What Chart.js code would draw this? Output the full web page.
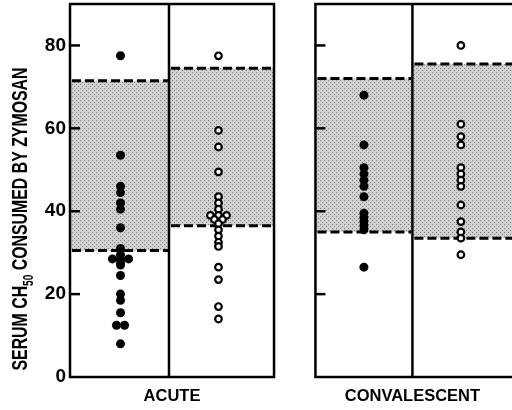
<!DOCTYPE html>
<html>
<head>
<meta charset="utf-8">
<script src="https://cdn.jsdelivr.net/npm/chart.js@4.4.1/dist/chart.umd.min.js"></script>
<style>
  html, body { margin: 0; padding: 0; background: #fff; }
  #wrap { width: 512px; height: 410px; }
</style>
</head>
<body>
<div id="wrap"><canvas id="chart" width="512" height="410"></canvas></div>
<script>
// values (serum CH50 consumed by zymosan)
const groupLabels = ['ACUTE', 'CONVALESCENT'];
const acuteFilled = [77.5, 53.5, 46, 44.5, 42, 40.5, 36, 31, 29.5, 28.5, 28.5, 28.5, 27.5, 27, 24.5, 20, 18.5, 15.5, 12.5, 12.5, 8];
const acuteOpen = [77.5, 59.5, 55.5, 49.5, 43.5, 42, 40.5, 39, 39, 39, 38, 38, 37, 35.5, 34, 32.5, 31.5, 26.5, 23.5, 17, 14];
const convFilled = [68, 56, 50.5, 49, 47.5, 46, 43.5, 39.5, 38.5, 37.5, 36.5, 35.5, 26.5];
const convOpen = [80, 61, 58, 56, 50.5, 49, 47.5, 46, 41.5, 37.5, 35, 33.5, 29.5];
// shaded normal range per column
const normalLow = [30.5, 36.5, 35, 33.5];
const normalHigh = [71.5, 74.5, 72, 75.5];
const yTicks = [0, 20, 40, 60, 80];

// layout on the x scale (not data)
const columns = [[0, 0.98], [0.98, 2.02], [2.43, 3.39], [3.39, 4.45]];
const panels = [[0, 2.02], [2.43, 4.45]];
const groupX = [0.5, 1.47, 2.91, 3.87];
const labelX = [1.01, 3.39];
const spread = 0.08;

const FONT = "'Liberation Sans', Arial, sans-serif";

// side by side placement for equal values
function toPoints(vals, cx) {
  const counts = {};
  vals.forEach(v => counts[v] = (counts[v] || 0) + 1);
  const seen = {};
  return vals.map(v => {
    const n = counts[v];
    const k = seen[v] = (seen[v] || 0) + 1;
    return { x: cx + (k - 1 - (n - 1) / 2) * spread, y: v };
  });
}

function makeStipple() {
  const c = document.createElement('canvas');
  c.width = 4; c.height = 4;
  const g = c.getContext('2d');
  g.fillStyle = '#d2d2d2';
  g.fillRect(0, 0, 4, 4);
  g.fillStyle = '#777';
  g.fillRect(0, 0, 1, 1);
  g.fillRect(2, 2, 1, 1);
  return g.createPattern(c, 'repeat');
}

const panelPlugin = {
  id: 'panels',
  beforeDatasetsDraw(chart) {
    const { ctx, scales: { x, y } } = chart;
    const stipple = makeStipple();
    ctx.save();
    columns.forEach((c, i) => {
      const x0 = x.getPixelForValue(c[0]), x1 = x.getPixelForValue(c[1]);
      const yh = y.getPixelForValue(normalHigh[i]), yl = y.getPixelForValue(normalLow[i]);
      ctx.fillStyle = stipple;
      ctx.fillRect(x0, yh, x1 - x0, yl - yh);
      ctx.strokeStyle = '#000';
      ctx.lineWidth = 3;
      ctx.setLineDash([9, 4]);
      [yh, yl].forEach(py => {
        ctx.beginPath();
        ctx.moveTo(x0 + 2, py);
        ctx.lineTo(x1 - 1, py);
        ctx.stroke();
      });
    });
    ctx.setLineDash([]);
    ctx.lineWidth = 2.5;
    ctx.strokeStyle = '#000';
    const top = y.getPixelForValue(90), bottom = y.getPixelForValue(0);
    panels.forEach(p => {
      const x0 = x.getPixelForValue(p[0]), x1 = x.getPixelForValue(p[1]);
      ctx.strokeRect(x0, top, x1 - x0, bottom - top);
      // inward ticks
      yTicks.slice(1).forEach(t => {
        const py = y.getPixelForValue(t);
        ctx.beginPath();
        ctx.moveTo(x0, py);
        ctx.lineTo(x0 + 10, py);
        ctx.stroke();
      });
    });
    [columns[0][1], columns[2][1]].forEach(v => {
      const px = x.getPixelForValue(v);
      ctx.beginPath();
      ctx.moveTo(px, top);
      ctx.lineTo(px, bottom);
      ctx.stroke();
    });
    ctx.restore();
  },
  afterDraw(chart) {
    // y title with subscript, squeezed like the condensed original
    const { ctx } = chart;
    const big = 'bold 22px ' + FONT, small = 'bold 14px ' + FONT;
    const parts = [['SERUM CH', big, 0], ['50', small, 6], [' CONSUMED BY ZYMOSAN', big, 0]];
    ctx.save();
    let total = 0;
    parts.forEach(p => { ctx.font = p[1]; total += ctx.measureText(p[0]).width; });
    ctx.translate(27, 219);
    ctx.rotate(-Math.PI / 2);
    ctx.scale(303 / total, 1);
    ctx.fillStyle = '#000';
    ctx.textBaseline = 'alphabetic';
    let cx = -total / 2;
    parts.forEach(p => {
      ctx.font = p[1];
      ctx.fillText(p[0], cx, p[2]);
      cx += ctx.measureText(p[0]).width;
    });
    ctx.restore();
  }
};

const filledStyle = { pointRadius: 4.5, pointBackgroundColor: '#000', pointBorderColor: '#000', pointBorderWidth: 0 };
const openStyle = { pointRadius: 3.3, pointBackgroundColor: '#fff', pointBorderColor: '#000', pointBorderWidth: 2.2 };

new Chart(document.getElementById('chart'), {
  type: 'scatter',
  data: {
    datasets: [
      Object.assign({ label: 'Acute filled', data: toPoints(acuteFilled, groupX[0]) }, filledStyle),
      Object.assign({ label: 'Acute open', data: toPoints(acuteOpen, groupX[1]) }, openStyle),
      Object.assign({ label: 'Convalescent filled', data: toPoints(convFilled, groupX[2]) }, filledStyle),
      Object.assign({ label: 'Convalescent open', data: toPoints(convOpen, groupX[3]) }, openStyle)
    ]
  },
  options: {
    responsive: false,
    animation: false,
    layout: { autoPadding: false, padding: { top: 4, right: 0, left: 0, bottom: 0 } },
    plugins: { legend: { display: false }, tooltip: { enabled: false } },
    scales: {
      x: {
        type: 'linear',
        min: 0,
        max: 4.376,
        grid: { display: false, drawTicks: false },
        border: { display: false },
        afterBuildTicks: s => { s.ticks = labelX.map(v => ({ value: v })); },
        ticks: {
          callback: (v, i) => groupLabels[i],
          color: '#000',
          font: { family: FONT, size: 16.5, weight: 'bold' },
          padding: 10,
          maxRotation: 0
        },
        afterFit: s => { s.height = 33; s.paddingLeft = 0; s.paddingRight = 0; }
      },
      y: {
        min: 0,
        max: 90,
        grid: { display: false, drawTicks: false },
        border: { display: false },
        afterBuildTicks: s => { s.ticks = yTicks.map(v => ({ value: v })); },
        ticks: {
          color: '#000',
          font: { family: FONT, size: 19, weight: 'bold' },
          padding: 4
        },
        afterFit: s => { s.width = 70; s.paddingTop = 0; s.paddingBottom = 0; }
      }
    }
  },
  plugins: [panelPlugin]
});
</script>
</body>
</html>
